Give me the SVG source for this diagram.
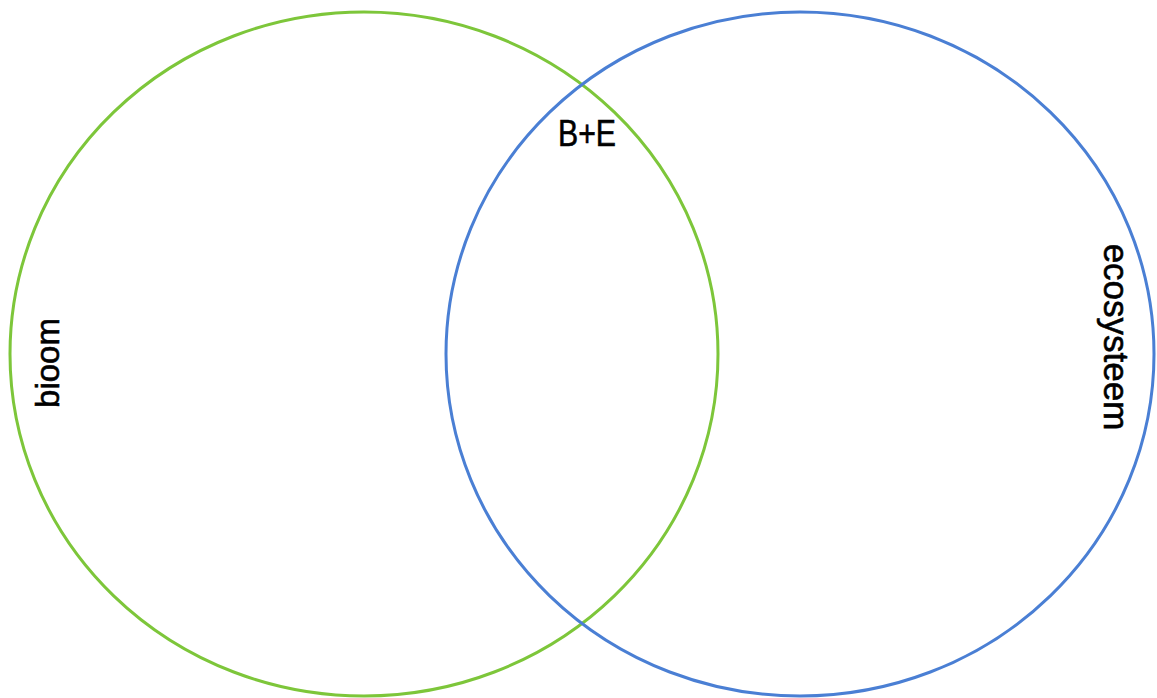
<svg xmlns="http://www.w3.org/2000/svg" width="1157" height="698" viewBox="0 0 1157 698">
<style>
.lbl{font-family:"Liberation Sans",Arial,sans-serif;fill:#000;stroke:#000;stroke-width:0.6;}
.c{fill:none;stroke-width:3;}
</style>
<rect width="1157" height="698" fill="#fff"/>
<g id="bioom">
<ellipse class="c" cx="364" cy="354" rx="354" ry="342" stroke="#7dc63a"/>
<text class="lbl" font-size="33" text-anchor="middle" transform="translate(59,363) rotate(-90)">bioom</text>
</g>
<g id="ecosysteem">
<ellipse class="c" cx="800" cy="354" rx="354" ry="342" stroke="#4a7fd4"/>
<text class="lbl" font-size="35" text-anchor="middle" transform="translate(1104,337) rotate(90)">ecosysteem</text>
</g>
<g id="overlap">
<text class="lbl" font-size="37" x="558" y="146" textLength="58" lengthAdjust="spacingAndGlyphs">B+E</text>
</g>
<g id="connectors"/>
</svg>
